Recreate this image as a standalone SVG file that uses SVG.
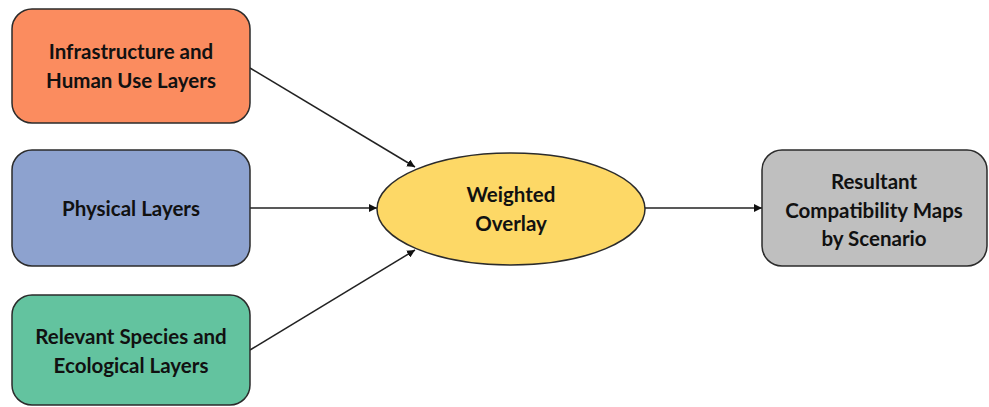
<svg xmlns="http://www.w3.org/2000/svg" width="989" height="407" viewBox="0 0 989 407">
<style>
.box{stroke:#2b2b2b;stroke-width:1.5}
.t{font-family:Lato,"Open Sans","Liberation Sans",sans-serif;font-weight:bold;font-size:20.5px;fill:#111;text-anchor:middle}
.c{stroke:#222;stroke-width:1.5;fill:none;marker-end:url(#ah)}
</style>
<defs>
<marker id="ah" viewBox="0 0 10 10" refX="10" refY="5" markerWidth="8" markerHeight="8" markerUnits="userSpaceOnUse" orient="auto">
<path d="M0,0 L10,5 L0,10 z" fill="#111"/>
</marker>
</defs>
<rect width="989" height="407" fill="#fff"/>
<g id="connectors">
<line class="c" x1="250" y1="68" x2="415" y2="167"/>
<line class="c" x1="250" y1="208" x2="377" y2="208"/>
<line class="c" x1="250" y1="350" x2="415" y2="250"/>
<line class="c" x1="645" y1="208" x2="762" y2="208"/>
</g>
<g id="n1">
<rect class="box" x="12" y="9" width="238" height="114" rx="20" fill="#FB8C5F"/>
<text class="t" x="131" y="59">Infrastructure and</text>
<text class="t" x="131" y="88">Human Use Layers</text>
</g>
<g id="n2">
<rect class="box" x="12" y="150" width="238" height="116" rx="20" fill="#8DA2CF"/>
<text class="t" x="131" y="216">Physical Layers</text>
</g>
<g id="n3">
<rect class="box" x="12" y="295" width="238" height="110" rx="20" fill="#63C39F"/>
<text class="t" x="131" y="344">Relevant Species and</text>
<text class="t" x="131" y="373">Ecological Layers</text>
</g>
<g id="n4">
<ellipse class="box" cx="511" cy="209" rx="134" ry="56" fill="#FDD866"/>
<text class="t" x="511" y="202">Weighted</text>
<text class="t" x="511" y="231">Overlay</text>
</g>
<g id="n5">
<rect class="box" x="762" y="150" width="225" height="116" rx="20" fill="#BFBFBF"/>
<text class="t" x="874" y="189">Resultant</text>
<text class="t" x="874" y="218">Compatibility Maps</text>
<text class="t" x="874" y="246">by Scenario</text>
</g>
</svg>
